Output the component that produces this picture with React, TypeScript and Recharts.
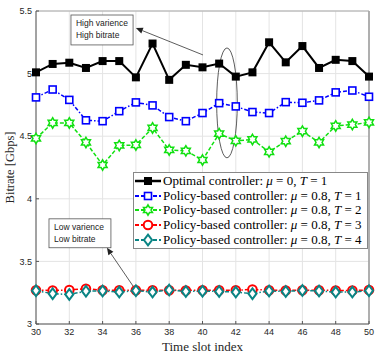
import React from 'react';
import {
  LineChart,
  Line,
  XAxis,
  YAxis,
  CartesianGrid,
  Legend,
  ReferenceLine,
  ReferenceArea,
} from 'recharts';

const slots = [30, 31, 32, 33, 34, 35, 36, 37, 38, 39, 40, 41, 42, 43, 44, 45, 46, 47, 48, 49, 50];
const optimal = [5.01, 5.077, 5.087, 5.045, 5.1, 5.1, 4.97, 5.24, 4.95, 5.07, 5.05, 5.08, 4.976, 5.01, 5.25, 5.09, 5.22, 5.045, 5.11, 5.1, 4.976];
const policyT1 = [4.81, 4.873, 4.79, 4.627, 4.62, 4.7, 4.77, 4.746, 4.653, 4.62, 4.685, 4.764, 4.738, 4.693, 4.685, 4.772, 4.767, 4.786, 4.85, 4.865, 4.815];
const policyT2 = [4.482, 4.606, 4.606, 4.45, 4.27, 4.426, 4.43, 4.566, 4.39, 4.383, 4.31, 4.52, 4.463, 4.474, 4.375, 4.46, 4.54, 4.45, 4.582, 4.593, 4.61];
const policyT3 = [3.27, 3.268, 3.272, 3.282, 3.27, 3.27, 3.27, 3.27, 3.27, 3.268, 3.27, 3.27, 3.27, 3.276, 3.27, 3.268, 3.27, 3.27, 3.268, 3.268, 3.272];
const policyT4 = [3.266, 3.242, 3.236, 3.262, 3.264, 3.255, 3.266, 3.255, 3.271, 3.26, 3.262, 3.26, 3.255, 3.242, 3.264, 3.26, 3.268, 3.264, 3.255, 3.255, 3.266];

const xTicks = [30, 32, 34, 36, 38, 40, 42, 44, 46, 48, 50];
const yTicks = [3, 3.5, 4, 4.5, 5, 5.5];

const data = slots.map((s, i) => ({
  slot: s,
  opt: optimal[i],
  t1: policyT1[i],
  t2: policyT2[i],
  t3: policyT3[i],
  t4: policyT4[i],
}));

const GREEN = '#10e010';
const TEAL = '#0a8585';

// marker shapes
const Marker = ({ kind, cx, cy }: { kind: string; cx: number; cy: number }) => {
  if (kind === 'fsquare') return <rect x={cx - 4} y={cy - 4} width={8} height={8} fill="#000" />;
  if (kind === 'square')
    return <rect x={cx - 3.5} y={cy - 3.5} width={7} height={7} fill="#fff" stroke="#0000ff" strokeWidth={1.6} />;
  if (kind === 'circle') return <circle cx={cx} cy={cy} r={4.3} fill="#fff" stroke="#ff0000" strokeWidth={2} />;
  if (kind === 'diamond')
    return (
      <path
        d={`M${cx},${cy - 5.3}L${cx + 4},${cy}L${cx},${cy + 5.3}L${cx - 4},${cy}Z`}
        fill="#fff"
        stroke={TEAL}
        strokeWidth={2}
      />
    );
  // hexagram
  const r = 5.2;
  const ri = r / Math.sqrt(3);
  const pts: string[] = [];
  for (let k = 0; k < 12; k++) {
    const a = ((-90 + 30 * k) * Math.PI) / 180;
    const rr = k % 2 === 0 ? r : ri;
    pts.push(`${cx + rr * Math.cos(a)},${cy + rr * Math.sin(a)}`);
  }
  return <polygon points={pts.join(' ')} fill="#fff" stroke={GREEN} strokeWidth={1.5} />;
};

const dotOf = (kind: string) => (p: any) => <Marker key={p.index} kind={kind} cx={p.cx} cy={p.cy} />;

const series = [
  { key: 'opt', color: '#000', width: 2, dash: undefined, marker: 'fsquare', label: 'Optimal controller: ', mu: '0', T: '1' },
  { key: 't1', color: '#0000ff', width: 1.5, dash: '4 2 1.5 2', marker: 'square', label: 'Policy-based controller: ', mu: '0.8', T: '1' },
  { key: 't2', color: GREEN, width: 1.5, dash: '4 2', marker: 'hex', label: 'Policy-based controller: ', mu: '0.8', T: '2' },
  { key: 't3', color: '#ff0000', width: 1.5, dash: '4 2 1.5 2', marker: 'circle', label: 'Policy-based controller: ', mu: '0.8', T: '3' },
  { key: 't4', color: TEAL, width: 1.5, dash: '4 2 1.5 2', marker: 'diamond', label: 'Policy-based controller: ', mu: '0.8', T: '4' },
];

const renderLegend = () => (
  <div
    style={{
      width: 233,
      height: 74,
      border: '1px solid #888',
      background: '#fff',
      fontFamily: '"Liberation Serif", serif',
      fontSize: 13,
      color: '#000',
      paddingTop: 1,
    }}
  >
    {series.map((s) => (
      <div key={s.key} style={{ height: 14.6, display: 'flex', alignItems: 'center', whiteSpace: 'nowrap' }}>
        <svg width={29} height={14} style={{ flex: 'none' }}>
          <line x1={1} y1={7} x2={27} y2={7} stroke={s.color} strokeWidth={s.width + 0.5} strokeDasharray={s.dash ? '4 2' : undefined} />
          <Marker kind={s.marker} cx={14} cy={7} />
        </svg>
        <span>
          {s.label}
          <i>μ</i> = {s.mu}, <i>T</i> = {s.T}
        </span>
      </div>
    ))}
  </div>
);

const Arrow = (p: any) => {
  const { x1, y1, x2, y2 } = p;
  const ang = Math.atan2(y2 - y1, x2 - x1);
  const L = 7;
  const w = 3;
  const bx = x2 - L * Math.cos(ang);
  const by = y2 - L * Math.sin(ang);
  const px = -Math.sin(ang) * w;
  const py = Math.cos(ang) * w;
  return (
    <g>
      <line x1={x1} y1={y1} x2={bx} y2={by} stroke="#333" strokeWidth={0.8} />
      <path d={`M${x2},${y2}L${bx + px},${by + py}L${bx - px},${by - py}Z`} fill="#222" />
    </g>
  );
};

const NoteBox = (lines: string[]) => (p: any) => (
  <g>
    <rect x={p.x} y={p.y} width={p.width} height={p.height} fill="#fff" stroke="#555" strokeWidth={0.8} />
    {lines.map((t, i) => (
      <text key={t} x={p.x + 5} y={p.y + 11 + i * 12} fontSize={8.5} fontFamily='"Liberation Sans", sans-serif' fill="#222">
        {t}
      </text>
    ))}
  </g>
);

const Ellipse = (p: any) => (
  <ellipse cx={p.x + p.width / 2} cy={p.y + p.height / 2} rx={p.width / 2} ry={p.height / 2} fill="none" stroke="#333" strokeWidth={0.8} />
);

const tickStyle = { fontSize: 9, fontFamily: '"Liberation Sans", sans-serif', fill: '#262626' };

export default function App() {
  return (
    <div style={{ position: 'absolute', left: 0, top: 0, background: '#fff' }}>
      <LineChart width={382} height={356} data={data} margin={{ top: 11, right: 13, left: 0, bottom: 0 }}>
        <CartesianGrid stroke="#e4e4e4" />
        <XAxis
          dataKey="slot"
          type="number"
          domain={[30, 50]}
          ticks={xTicks}
          height={32}
          stroke="#555"
          tick={tickStyle}
          tickSize={-3}
          tickMargin={8}
          label={{
            content: (props: any) => (
              <text
                x={props.viewBox.x + props.viewBox.width / 2}
                y={props.viewBox.y + 27}
                textAnchor="middle"
                fontSize={13}
                fontFamily='"Liberation Serif", serif'
                fill="#262626"
              >
                Time slot index
              </text>
            ),
          }}
        />
        <YAxis
          type="number"
          domain={[3, 5.5]}
          ticks={yTicks}
          width={36}
          stroke="#555"
          tick={tickStyle}
          tickSize={-3}
          tickMargin={7}
          label={{
            content: (props: any) => {
              const cx = 11;
              const cy = props.viewBox.y + props.viewBox.height / 2;
              return (
                <text
                  x={cx}
                  y={cy}
                  transform={`rotate(-90 ${cx} ${cy})`}
                  textAnchor="middle"
                  dominantBaseline="middle"
                  fontSize={12.5}
                  fontFamily='"Liberation Serif", serif'
                  fill="#262626"
                >
                  Bitrate [Gbps]
                </text>
              );
            },
          }}
        />
        <ReferenceLine x={50} stroke="#999" strokeWidth={1.5} />
        <ReferenceLine y={5.5} stroke="#aaa" strokeWidth={1} />
        <ReferenceArea x1={32.1} x2={35.83} y1={5.229} y2={5.468} shape={NoteBox(['High varience', 'High bitrate'])} />
        <ReferenceArea x1={30.78} x2={34.5} y1={3.609} y2={3.84} shape={NoteBox(['Low varience', 'Low bitrate'])} />
        <ReferenceArea x1={40.85} x2={42.09} y1={4.327} y2={5.205} shape={Ellipse} />
        <ReferenceLine segment={[{ x: 40.03, y: 5.149 }, { x: 36.0, y: 5.364 }]} shape={Arrow} />
        <ReferenceLine segment={[{ x: 35.9, y: 3.289 }, { x: 34.26, y: 3.609 }]} shape={Arrow} />
        {series.map((s) => (
          <Line
            key={s.key}
            dataKey={s.key}
            stroke={s.color}
            strokeWidth={s.width}
            strokeDasharray={s.dash}
            dot={dotOf(s.marker)}
            activeDot={false}
            isAnimationActive={false}
          />
        ))}
        <Legend
          layout="horizontal"
          verticalAlign="middle"
          align="center"
          content={renderLegend}
          wrapperStyle={{ left: 133, top: 172, width: 235, height: 76 }}
        />
      </LineChart>
    </div>
  );
}
